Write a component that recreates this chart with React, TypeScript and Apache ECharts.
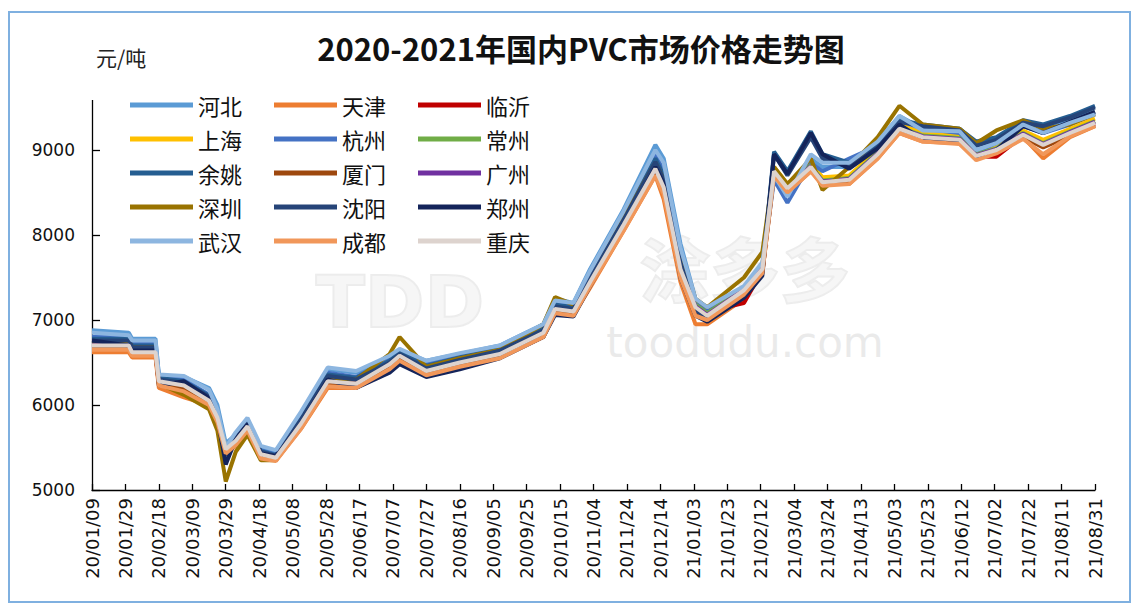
import React, { useEffect, useRef } from "react";
import * as echarts from "echarts";

// anchor days (index from 2020/01/09)
const anchorDays = [0, 22, 24, 38, 40, 55, 70, 75,
  80, 86, 93, 101, 110, 125, 141, 158,
  178, 184, 200, 220, 244, 270, 277, 288,
  298, 318, 337, 342, 352, 361, 368, 390,
  401, 408, 416, 430, 437, 453, 470, 483,
  497, 519, 529, 541, 557, 569, 585, 600];

const hebei = [6880, 6850, 6780, 6780, 6350, 6330, 6200, 6000,
  5550, 5650, 5820, 5500, 5450, 5900, 6420, 6380,
  6560, 6650, 6520, 6600, 6700, 6950, 7250, 7200,
  7600, 8300, 9060, 8900, 7900, 7250, 7150, 7380,
  7650, 8800, 8500, 8900, 8800, 8800, 9100, 9400,
  9250, 9250, 9080, 9120, 9300, 9250, 9350, 9450];
const tianjin = [6620, 6620, 6560, 6560, 6200, 6090, 6000, 5800,
  5420, 5520, 5700, 5380, 5350, 5720, 6200, 6200,
  6420, 6520, 6350, 6450, 6560, 6800, 7080, 7060,
  7380, 8050, 8700, 8420, 7450, 6950, 6950, 7250,
  7550, 8700, 8500, 8750, 8600, 8600, 8900, 9200,
  9100, 9080, 8900, 8980, 9150, 8900, 9150, 9280];
const linyi = [6680, 6680, 6600, 6600, 6260, 6200, 6030, 5830,
  5460, 5560, 5730, 5400, 5370, 5760, 6260, 6230,
  6460, 6560, 6380, 6480, 6590, 6840, 7120, 7090,
  7440, 8100, 8760, 8540, 7550, 7120, 7100, 7200,
  7580, 8740, 8540, 8780, 8610, 8640, 8940, 9240,
  9140, 9110, 8920, 8920, 9170, 9050, 9190, 9310];
const shanghai = [6740, 6740, 6660, 6660, 6300, 6250, 6080, 5880,
  5500, 5600, 5780, 5450, 5400, 5820, 6320, 6290,
  6520, 6620, 6440, 6540, 6640, 6900, 7170, 7140,
  7500, 8170, 8830, 8620, 7650, 7200, 7120, 7380,
  7650, 8800, 8600, 8850, 8680, 8700, 9000, 9300,
  9200, 9170, 8980, 9050, 9230, 9120, 9250, 9370];
const hangzhou = [6800, 6800, 6720, 6720, 6330, 6300, 6120, 5900,
  5450, 5620, 5800, 5470, 5420, 5850, 6380, 6330,
  6540, 6640, 6480, 6580, 6680, 6920, 7200, 7170,
  7550, 8250, 8950, 8750, 7750, 7200, 7100, 7350,
  7620, 8650, 8380, 8850, 8750, 8900, 9050, 9350,
  9250, 9200, 8980, 9080, 9280, 9200, 9300, 9430];
const changzhou = [6720, 6720, 6640, 6640, 6290, 6240, 6070, 5870,
  5490, 5590, 5760, 5430, 5390, 5800, 6300, 6270,
  6500, 6600, 6420, 6520, 6620, 6870, 7150, 7120,
  7470, 8140, 8800, 8620, 7620, 7180, 7080, 7370,
  7620, 8770, 8570, 8820, 8640, 8670, 8970, 9270,
  9170, 9140, 8950, 9020, 9200, 9080, 9220, 9340];
const yuyao = [6780, 6780, 6700, 6700, 6320, 6280, 6110, 5880,
  5400, 5600, 5790, 5460, 5410, 5840, 6360, 6320,
  6520, 6620, 6460, 6560, 6660, 6900, 7180, 7150,
  7520, 8200, 8900, 8700, 7700, 7150, 7050, 7320,
  7600, 8980, 8750, 9220, 8950, 8850, 9050, 9350,
  9300, 9250, 9100, 9150, 9350, 9300, 9400, 9520];
const xiamen = [6660, 6660, 6590, 6590, 6250, 6190, 6010, 5800,
  5420, 5540, 5720, 5390, 5350, 5740, 6240, 6210,
  6440, 6540, 6370, 6460, 6570, 6820, 7100, 7070,
  7420, 8080, 8740, 8520, 7560, 7100, 7000, 7300,
  7560, 8720, 8520, 8770, 8590, 8620, 8920, 9220,
  9120, 9090, 8900, 8970, 9150, 9030, 9170, 9290];
const guangzhou = [6710, 6710, 6630, 6630, 6290, 6240, 6060, 5860,
  5490, 5590, 5760, 5430, 5390, 5790, 6290, 6260,
  6490, 6590, 6410, 6510, 6610, 6860, 7140, 7110,
  7460, 8130, 8790, 8570, 7610, 7160, 7060, 7360,
  7610, 8760, 8560, 8810, 8630, 8660, 8960, 9260,
  9160, 9130, 8940, 9010, 9190, 9070, 9210, 9330];
const shenzhen = [6750, 6750, 6680, 6680, 6250, 6120, 5950, 5700,
  5100, 5450, 5650, 5350, 5350, 5800, 6300, 6300,
  6600, 6800, 6450, 6550, 6650, 6950, 7270, 7180,
  7500, 8200, 8850, 8650, 7800, 7250, 7150, 7500,
  7800, 8800, 8600, 8900, 8530, 8800, 9150, 9520,
  9300, 9250, 9080, 9230, 9350, 9250, 9300, 9420];
const shenyang = [6760, 6760, 6680, 6680, 6300, 6260, 6100, 5880,
  5430, 5610, 5780, 5450, 5400, 5830, 6340, 6300,
  6500, 6600, 6430, 6530, 6640, 6880, 7160, 7130,
  7500, 8180, 8860, 8650, 7680, 7120, 7020, 7300,
  7580, 8950, 8700, 9150, 8900, 8800, 9030, 9330,
  9280, 9230, 9050, 9120, 9320, 9280, 9380, 9500];
const zhengzhou = [6760, 6700, 6640, 6640, 6230, 6280, 6080, 5850,
  5300, 5600, 5780, 5430, 5400, 5780, 6300, 6200,
  6380, 6480, 6330, 6420, 6550, 6800, 7060, 7040,
  7400, 8100, 8800, 8600, 7500, 7050, 6980, 7260,
  7520, 8950, 8720, 9200, 8950, 8780, 9020, 9300,
  9120, 9080, 8900, 9000, 9280, 9200, 9330, 9450];
const wuhan = [6850, 6820, 6760, 6760, 6360, 6340, 6180, 5950,
  5500, 5680, 5850, 5520, 5470, 5920, 6440, 6400,
  6580, 6660, 6520, 6610, 6700, 6950, 7230, 7200,
  7580, 8280, 9000, 8850, 7850, 7250, 7150, 7400,
  7680, 8700, 8450, 8950, 8850, 8850, 9100, 9400,
  9230, 9220, 9000, 9080, 9300, 9200, 9320, 9420];
const chengdu = [6650, 6650, 6580, 6580, 6230, 6160, 6000, 5800,
  5430, 5530, 5700, 5370, 5340, 5720, 6220, 6200,
  6420, 6520, 6350, 6450, 6550, 6800, 7080, 7050,
  7400, 8050, 8700, 8480, 7500, 7050, 7000, 7300,
  7550, 8700, 8500, 8750, 8580, 8600, 8900, 9200,
  9100, 9070, 8880, 8960, 9130, 8950, 9160, 9280];
const chongqing = [6700, 6700, 6620, 6620, 6280, 6230, 6050, 5850,
  5480, 5580, 5750, 5420, 5380, 5780, 6280, 6250,
  6480, 6580, 6400, 6500, 6600, 6850, 7130, 7100,
  7450, 8120, 8780, 8560, 7600, 7150, 7050, 7350,
  7600, 8750, 8550, 8800, 8620, 8650, 8950, 9250,
  9150, 9120, 8930, 9000, 9180, 9060, 9200, 9320];

const seriesNames = ["河北", "天津", "临沂", "上海", "杭州", "常州", "余姚", "厦门", "广州", "深圳", "沈阳", "郑州", "武汉", "成都", "重庆"];
const seriesValues = [hebei, tianjin, linyi, shanghai, hangzhou, changzhou, yuyao, xiamen, guangzhou, shenzhen, shenyang, zhengzhou, wuhan, chengdu, chongqing];
const seriesColors = ["#5B9BD5", "#ED7D31", "#C00000", "#FFC000", "#4472C4", "#70AD47", "#255E91", "#9E480E", "#7030A0", "#997300", "#264478", "#14245A", "#8DB6E0", "#F1975A", "#DDD3CE"];

const startDate = Date.UTC(2020, 0, 9);
const dayCount = 601;
const pad = (n: number) => (n < 10 ? "0" + n : String(n));
const dateCategories = Array.from({ length: dayCount }, (_, i) => {
  const d = new Date(startDate + i * 86400000);
  return `${String(d.getUTCFullYear()).slice(2)}/${pad(d.getUTCMonth() + 1)}/${pad(d.getUTCDate())}`;
});

const titleText = "2020-2021年国内PVC市场价格走势图";
const unitText = "元/吨";

export default function App() {
  const ref = useRef<HTMLDivElement>(null);
  useEffect(() => {
    if (!ref.current) return;
    const chart = echarts.init(ref.current, null, { renderer: "svg" });
    const cjk = "'Noto Sans CJK SC', 'Noto Sans', sans-serif";
    const wmFill = "rgba(238,238,238,0.55)";
    const wmStroke = "rgba(220,220,220,0.55)";
    chart.setOption({
      animation: false,
      backgroundColor: "#ffffff",
      grid: { left: 92, right: 42, top: 65, bottom: 120, containLabel: false, outerBoundsMode: "none" },
      legend: {
        data: seriesNames,
        left: 130,
        top: 90,
        width: 440,
        padding: 0,
        itemWidth: 63,
        itemHeight: 5,
        itemGap: 4,
        icon: "rect",
        textStyle: { fontSize: 22, width: 72, lineHeight: 30, color: "#111", fontFamily: cjk },
      },
      xAxis: {
        type: "category",
        data: dateCategories,
        boundaryGap: false,
        axisLine: { lineStyle: { color: "#000", width: 1.3 } },
        axisTick: { inside: true, length: 6, interval: 19, lineStyle: { color: "#000", width: 1.3 } },
        axisLabel: { interval: 19, rotate: 90, fontSize: 18, color: "#111", margin: 8, fontFamily: "'DejaVu Sans', sans-serif" },
        splitLine: { show: false },
      },
      yAxis: {
        type: "value",
        min: 5000,
        max: 10000,
        interval: 1000,
        axisLine: { show: true, lineStyle: { color: "#000", width: 1.3 } },
        axisTick: { show: true, inside: true, length: 8, lineStyle: { color: "#000", width: 1.3 } },
        axisLabel: {
          fontSize: 17,
          color: "#111",
          margin: 17,
          fontFamily: "'DejaVu Sans', sans-serif",
          formatter: (v: number) => (v === 10000 ? "" : String(v)),
        },
        splitLine: { show: false },
      },
      graphic: [
        { type: "rect", z: 100, shape: { x: 84, y: 55, width: 18, height: 45 }, style: { fill: "#ffffff" } },
        { type: "rect", z: 0, shape: { x: 9, y: 12, width: 1121, height: 590 }, style: { fill: "none", stroke: "#7FB0E0", lineWidth: 2 } },
        { type: "text", z: 100, x: 581, y: 47, style: { text: titleText, fontSize: 31, fontWeight: "bold", fill: "#111", fontFamily: cjk, textAlign: "center", textVerticalAlign: "middle" } },
        { type: "text", z: 100, x: 96, y: 57, style: { text: unitText, fontSize: 21, fill: "#222", fontFamily: cjk, textAlign: "left", textVerticalAlign: "middle" } },
        { type: "text", z: 0, x: 400, y: 302, style: { text: "TDD", fontSize: 72, fontWeight: "bold", fill: wmFill, stroke: wmStroke, lineWidth: 2, fontFamily: "'DejaVu Sans', sans-serif", textAlign: "center", textVerticalAlign: "middle" } },
        { type: "text", z: 0, x: 745, y: 266, style: { text: "涂多多", fontSize: 70, fontWeight: "bold", fill: wmFill, stroke: wmStroke, lineWidth: 2, fontFamily: cjk, textAlign: "center", textVerticalAlign: "middle" } },
        { type: "text", z: 0, x: 745, y: 342, style: { text: "toodudu.com", fontSize: 42, fill: "rgba(225,225,225,0.7)", fontFamily: "'DejaVu Sans', sans-serif", textAlign: "center", textVerticalAlign: "middle" } },
      ],
      series: seriesNames.map((name, si) => ({
        name,
        type: "line",
        showSymbol: false,
        symbol: "none",
        color: seriesColors[si],
        lineStyle: { width: 4, color: seriesColors[si] },
        data: anchorDays.map((d, i) => [d, seriesValues[si][i]]),
      })),
    });
    return () => chart.dispose();
  }, []);
  return <div ref={ref} style={{ position: "fixed", left: 0, top: 0, width: 1137, height: 610 }} />;
}
